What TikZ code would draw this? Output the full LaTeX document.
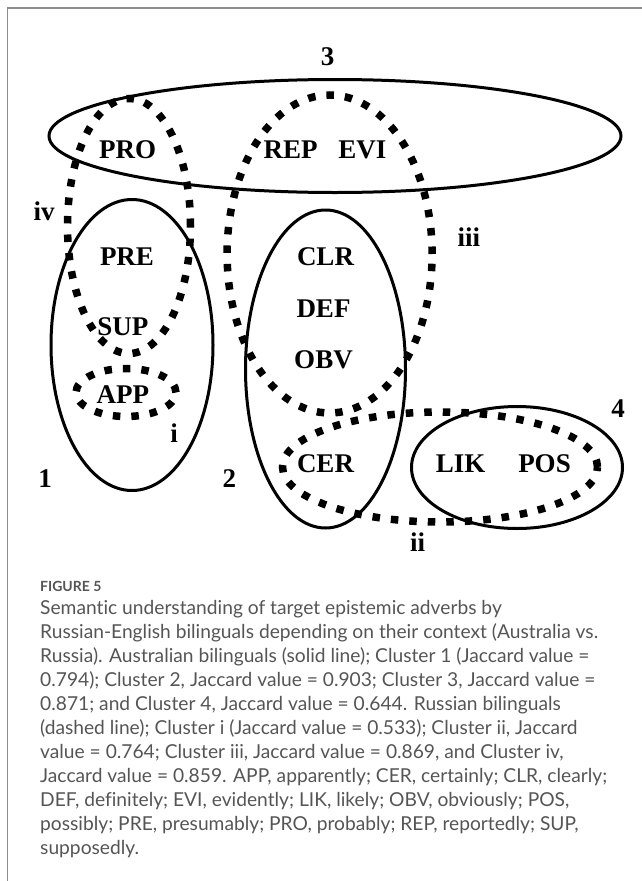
\documentclass[tikz,border=0pt]{standalone}
\usepackage{fontspec}
\setmainfont{Liberation Serif}
\newfontfamily\capfont[Ligatures=NoCommon]{Lato}
\usepackage{tikz}
\usetikzlibrary{shapes.geometric}
\definecolor{capgray}{RGB}{85,85,85}
\definecolor{framegray}{RGB}{140,140,140}

\begin{document}
\begin{tikzpicture}[x=1pt,y=-1pt]
        \tikzstyle{solid ring}=[draw,ellipse,line width=3pt,inner sep=0pt]
        \tikzstyle{dashed ring}=[draw,ellipse,line width=7.5pt,dash pattern=on 7.5pt off 11pt,inner sep=0pt]
        \tikzstyle{word}=[font=\fontsize{27}{27}\bfseries\selectfont,inner sep=0pt]
        \tikzstyle{caption}=[font=\capfont\fontsize{19.2}{24}\selectfont,text=capgray,align=left,anchor=north west,inner sep=0pt]
        \useasboundingbox (0,0) rectangle (642,881);
        \draw[framegray,line width=1.2pt] (7.5,881) -- (7.5,8) -- (642,8);

        % Australian clusters (solid)
        \node[solid ring,minimum width=572pt,minimum height=113pt] (c3) at (335,136) {};
        \node[solid ring,minimum width=162pt,minimum height=291pt] (c1) at (132,345) {};
        \node[solid ring,minimum width=160pt,minimum height=318pt] (c2) at (325.5,369) {};
        \node[solid ring,minimum width=211pt,minimum height=122pt] (c4) at (517,467.5) {};

        % Russian clusters (dashed)
        \node[dashed ring,minimum width=123pt,minimum height=255pt] (civ) at (129,226) {};
        \node[dashed ring,minimum width=205pt,minimum height=318pt] (ciii) at (329.6,254) {};
        \node[dashed ring,minimum width=100pt,minimum height=48pt] (ci) at (126,392.5) {};
        \node[dashed ring,minimum width=315pt,minimum height=110pt] (cii) at (440,467) {};

        % adverbs
        \node[word] (PRO) at (127.7,150) {PRO};
        \node[word] (REP) at (290.7,150) {REP};
        \node[word] (EVI) at (362.3,150) {EVI};
        \node[word] (PRE) at (127,256.7) {PRE};
        \node[word] (SUP) at (122.8,326.7) {SUP};
        \node[word] (APP) at (122.8,395) {APP};
        \node[word] (CLR) at (325.5,256.7) {CLR};
        \node[word] (DEF) at (323.5,308.3) {DEF};
        \node[word] (OBV) at (323.5,360) {OBV};
        \node[word] (CER) at (325.5,463.3) {CER};
        \node[word] (LIK) at (460.6,463.3) {LIK};
        \node[word] (POS) at (544.5,463.3) {POS};

        % cluster numbers
        \node[word] (n1) at (45,478.3) {1};
        \node[word] (n2) at (229.3,478.3) {2};
        \node[word] (n3) at (327.5,56.7) {3};
        \node[word] (n4) at (618.2,408.3) {4};
        \node[word] (ni) at (174,433.3) {i};
        \node[word] (nii) at (417.6,541.7) {ii};
        \node[word] (niii) at (468.8,237.3) {iii};
        \node[word] (niv) at (44.2,211.7) {iv};

        \node[caption,font=\capfont\bfseries\fontsize{14}{14}\selectfont] (fig) at (40,581) {FIGURE 5};
        \node[caption] (cap) at (40,600) {Semantic understanding of target epistemic adverbs by\\
Russian-English bilinguals depending on their context (Australia vs.\\
Russia). Australian bilinguals (solid line); Cluster 1 (Jaccard value =\\
0.794); Cluster 2, Jaccard value = 0.903; Cluster 3, Jaccard value =\\
0.871; and Cluster 4, Jaccard value = 0.644. Russian bilinguals\\
(dashed line); Cluster i (Jaccard value = 0.533); Cluster ii, Jaccard\\
value = 0.764; Cluster iii, Jaccard value = 0.869, and Cluster iv,\\
Jaccard value = 0.859. APP, apparently; CER, certainly; CLR, clearly;\\
DEF, definitely; EVI, evidently; LIK, likely; OBV, obviously; POS,\\
possibly; PRE, presumably; PRO, probably; REP, reportedly; SUP,\\
supposedly.};
    \end{tikzpicture}
\end{document}
